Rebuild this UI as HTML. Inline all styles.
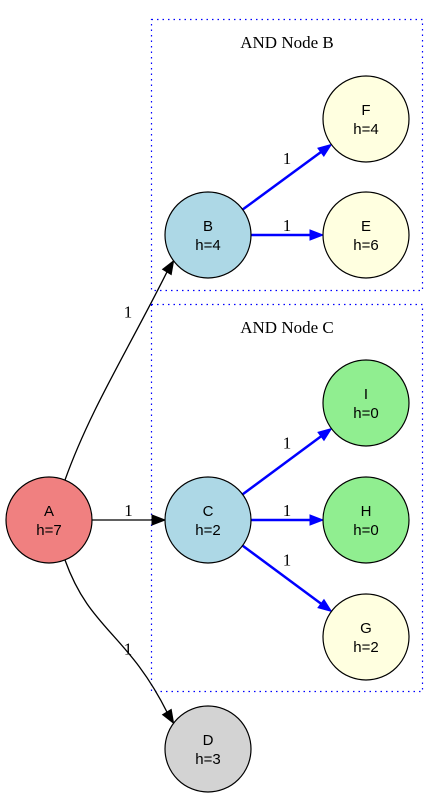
<!DOCTYPE html>
<html><head><meta charset="utf-8"><style>
html,body{margin:0;padding:0;background:#fff;}
svg{display:block;}
.nl{font-family:"Liberation Sans",Arial,sans-serif;font-size:15px;text-anchor:middle;}
.el{font-family:"Liberation Serif","Times New Roman",serif;font-size:17px;text-anchor:middle;}
</style></head><body>
<svg id="g" width="443" height="800" viewBox="0 0 443 800" xmlns="http://www.w3.org/2000/svg">
<rect x="151.5" y="19.5" width="271" height="271" fill="none" stroke="#0000ff" stroke-width="1.2" stroke-dasharray="1.5,4"/>
<text x="287" y="48" class="el">AND Node B</text>
<rect x="151.5" y="304.5" width="271" height="387" fill="none" stroke="#0000ff" stroke-width="1.2" stroke-dasharray="1.5,4"/>
<text x="287" y="333" class="el">AND Node C</text>
<g id="edges"></g>
<g id="nodes"></g>
</svg>
<script>
const nodeIds=['A','B','C','D','E','F','G','H','I'];
const nodeH=[7,4,2,3,6,4,2,0,0];
const nodeX=[49,208,208,208,366,366,366,366,366];
const nodeY=[520,235,520,749,235,119,637,520,403];
const nodeFill=['#f08080','#add8e6','#add8e6','#d3d3d3','#ffffe0','#ffffe0','#ffffe0','#90ee90','#90ee90'];
const edgeFrom=['A','A','A','B','B','C','C','C'];
const edgeTo=['B','C','D','F','E','I','H','G'];
const edgeCost=[1,1,1,1,1,1,1,1];
const NS='http://www.w3.org/2000/svg';
const R=43;
function idx(n){return nodeIds.indexOf(n);}
function mk(t,a,p){const e=document.createElementNS(NS,t);for(const k in a)e.setAttribute(k,a[k]);p.appendChild(e);return e;}
const eg=document.getElementById('edges'),ng=document.getElementById('nodes');
edgeFrom.forEach((f,i)=>{
  const a=idx(f),b=idx(edgeTo[i]);
  const x1=nodeX[a],y1=nodeY[a],x2=nodeX[b],y2=nodeY[b];
  const blue=f!=='A';
  const col=blue?'#0000ff':'#000';
  const sw=blue?2.5:1.3;
  let lx,ly;
  if(Math.abs(y2-y1)>150){
    const dir=y2<y1?-1:1;
    const sx=x1+16,sy=y1+dir*40;
    const ex=x2-R*0.8,ey=y2-dir*R*0.6;
    const ang=Math.atan2(dir*30,18);
    const bx=ex-12*Math.cos(ang),by=ey-12*Math.sin(ang);
    const path=`M${sx},${sy} C${sx+25},${sy+dir*70} ${bx-40},${by-dir*80} ${bx},${by}`;
    lx=128;ly=(y1+y2)/2+(dir<0?-65:15);
    mk('path',{d:path,fill:'none',stroke:col,'stroke-width':sw},eg);
    drawHead(ex,ey,ang,col);
  } else {
    const ang=Math.atan2(y2-y1,x2-x1);
    const sx=x1+R*Math.cos(ang),sy=y1+R*Math.sin(ang);
    const ex=x2-R*Math.cos(ang),ey=y2-R*Math.sin(ang);
    const bx=ex-12*Math.cos(ang),by=ey-12*Math.sin(ang);
    mk('line',{x1:sx,y1:sy,x2:bx,y2:by,stroke:col,'stroke-width':sw},eg);
    drawHead(ex,ey,ang,col);
    lx=(x1+x2)/2;ly=(y1+y2)/2-(y2===y1?9:18);
  }
  const t=mk('text',{x:lx,y:ly+5,class:'el'},eg);
  t.textContent=edgeCost[i];
  
  
});
function drawHead(ex,ey,ang,col){
  const L=13,W=5;
  const bx=ex-L*Math.cos(ang),by=ey-L*Math.sin(ang);
  const px=-Math.sin(ang)*W,py=Math.cos(ang)*W;
  const p=mk('polygon',{points:`${ex},${ey} ${bx+px},${by+py} ${bx-px},${by-py}`,fill:col,stroke:col},eg);
  
  
}
nodeIds.forEach((n,i)=>{
  const g=mk('g',{},ng);
  
  
  mk('circle',{cx:nodeX[i],cy:nodeY[i],r:R,fill:nodeFill[i],stroke:'#000','stroke-width':1.2},g);
  const t1=mk('text',{x:nodeX[i],y:nodeY[i]-4,class:'nl'},g);t1.textContent=n;
  const t2=mk('text',{x:nodeX[i],y:nodeY[i]+15,class:'nl'},g);t2.textContent='h='+nodeH[i];
});
</script>
</body></html>
